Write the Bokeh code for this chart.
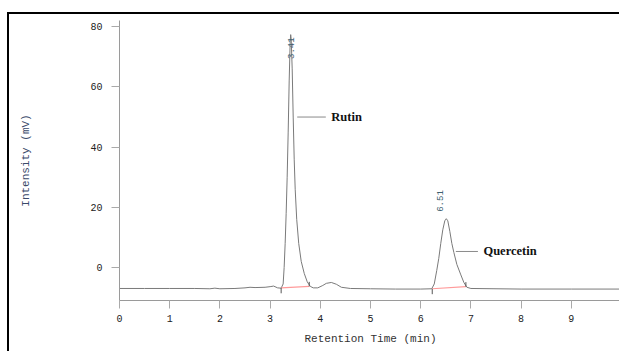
import math
from bokeh.plotting import figure
from bokeh.models import Range1d
from bokeh.core.properties import value
from bokeh.embed import file_html
from bokeh.resources import INLINE

# ---- data ----
time_min = [0.0, 0.5, 1.0, 1.5, 1.8, 1.9, 2.0, 2.3, 2.5, 2.6, 2.7, 2.9, 3.0, 3.07, 3.15,
            3.22, 3.26, 3.28, 3.30, 3.32, 3.34, 3.36, 3.38, 3.40, 3.41, 3.42, 3.44, 3.46,
            3.48, 3.50, 3.53, 3.57, 3.62, 3.68, 3.74, 3.80, 3.86, 3.95, 4.05, 4.12, 4.22,
            4.32, 4.42, 4.6, 5.0, 5.5, 6.0, 6.22, 6.27, 6.32, 6.36, 6.40, 6.44, 6.48, 6.51,
            6.54, 6.58, 6.62, 6.66, 6.72, 6.80, 6.86, 6.92, 7.0, 7.5, 8.0, 9.0, 10.0]
intensity_mv = [-7.0, -7.0, -7.0, -7.0, -7.1, -6.9, -7.1, -7.0, -6.8, -6.6, -6.7, -6.6, -6.4, -6.2, -6.8,
                -6.9, -5.5, 0.0, 8.0, 18.0, 30.0, 45.0, 62.0, 75.0, 77.4, 76.0, 66.0, 50.0,
                36.0, 26.0, 16.0, 8.0, 2.0, -2.0, -4.8, -6.3, -6.8, -6.8, -6.0, -5.3, -5.0,
                -5.6, -6.6, -7.0, -7.1, -7.2, -7.2, -7.1, -5.5, -1.0, 3.0, 8.0, 12.5, 15.5, 16.2,
                15.5, 12.0, 8.0, 5.0, 1.0, -2.5, -5.0, -6.6, -7.0, -7.1, -7.2, -7.2, -7.2]

peak_names = ["Rutin", "Quercetin"]
peak_times = [3.41, 6.51]
peak_labels = ["3.41", "6.51"]
int_start_t = [3.22, 6.23]
int_start_v = [-6.8, -7.1]
int_end_t = [3.78, 6.90]
int_end_v = [-6.3, -6.4]

x_ticks = list(range(0, 10))
y_ticks = [0, 20, 40, 60, 80]

# ---- figure ----
p = figure(width=612, height=339, output_backend="svg", toolbar_location=None,
           x_range=Range1d(0, 10.0), y_range=Range1d(-11.0, 82.1),
           min_border_left=110, min_border_right=0, min_border_top=6, min_border_bottom=53)
p.styles = {"border-left": "2px solid black", "border-top": "2px solid black",
            "margin-left": "7px", "margin-top": "12px"}
p.outline_line_color = None
p.grid.visible = False
p.background_fill_color = "white"
p.border_fill_color = "white"

mono = "Liberation Mono"

p.xaxis.ticker = x_ticks
p.xaxis.ticker.num_minor_ticks = 10
p.yaxis.ticker = y_ticks
p.yaxis.ticker.num_minor_ticks = 10

for ax in (p.xaxis[0], p.yaxis[0]):
    ax.axis_line_color = "#9a9a9a"
    ax.major_tick_line_color = "#aaaaaa"
    ax.minor_tick_line_color = "#aaaaaa"
    ax.major_tick_in = 0
    ax.minor_tick_in = 0
    ax.major_tick_out = 8
    ax.minor_tick_out = 3
    ax.major_label_text_font = mono
    ax.major_label_text_font_size = "10px"
    ax.major_label_text_color = "#222222"
    ax.axis_label_text_font = mono
    ax.axis_label_text_font_size = "11px"
    ax.axis_label_text_font_style = "normal"

p.xaxis.axis_label = "Retention Time (min)"
p.xaxis.axis_label_text_color = "#333333"
p.xaxis.major_label_standoff = 6
p.xaxis.axis_label_standoff = 8
p.yaxis.axis_label = "Intensity (mV)"
p.yaxis.axis_label_text_color = "#3a4a6a"
p.yaxis.major_label_standoff = 9
p.yaxis.axis_label_standoff = 55

# chromatogram trace
p.line(time_min, intensity_mv, line_color="#7a7a7a", line_width=1)

# integration baselines
p.segment(x0=int_start_t, y0=int_start_v, x1=int_end_t, y1=int_end_v,
          line_color="#ff9a9a", line_width=1.2)
# integration start / end markers
p.segment(x0=int_start_t, y0=int_start_v, x1=int_start_t,
          y1=[v - 1.8 for v in int_start_v], line_color="#555555", line_width=1)
p.segment(x0=int_end_t, y0=int_end_v, x1=int_end_t,
          y1=[v + 1.5 for v in int_end_v], line_color="#555555", line_width=1)

# retention time labels (rotated)
label_y = [69.3, 18.5]
label_x = [peak_times[0], peak_times[1] - 0.12]
p.text(x=label_x, y=label_y, text=peak_labels, angle=math.pi / 2,
       text_font=value(mono), text_font_size="9px", text_color="#3d6070",
       text_align="left", text_baseline="middle")

# compound name labels with leader lines
lead_x0 = [peak_times[0] + 0.13, peak_times[1] + 0.19]
lead_x1 = [peak_times[0] + 0.70, peak_times[1] + 0.63]
lead_y = [50.0, 5.3]
p.segment(x0=lead_x0, y0=lead_y, x1=lead_x1, y1=lead_y, line_color="#8a8a8a", line_width=1)
p.text(x=[x + 0.11 for x in lead_x1], y=lead_y, text=peak_names,
       text_font=value("Liberation Serif"), text_font_size="12.5px",
       text_font_style="bold", text_color="#111111",
       text_align="left", text_baseline="middle")

open("out.html", "w").write(file_html(p, INLINE))
